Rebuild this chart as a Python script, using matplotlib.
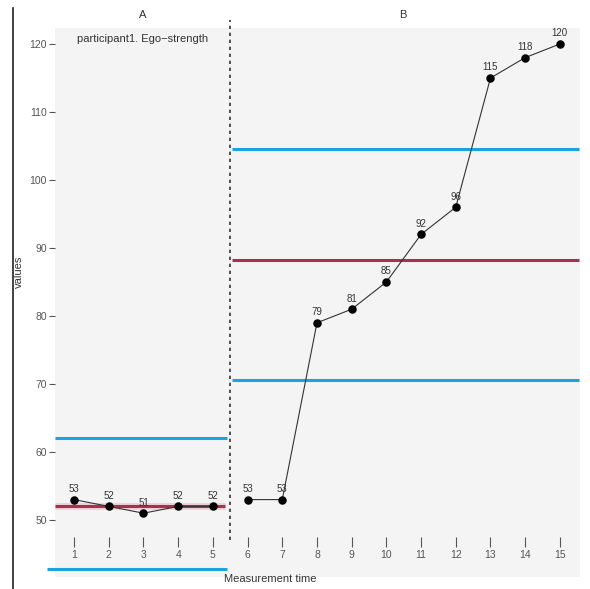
import matplotlib
matplotlib.use("Agg")
import matplotlib.pyplot as plt
from matplotlib.lines import Line2D

plt.rcParams["font.family"] = ["Liberation Sans", "DejaVu Sans"]

# Measurement occasions and scores per phase
time_a = [1, 2, 3, 4, 5]
values_a = [53, 52, 51, 52, 52]
time_b = [6, 7, 8, 9, 10, 11, 12, 13, 14, 15]
values_b = [53, 53, 79, 81, 85, 92, 96, 115, 118, 120]

# Phase reference lines: mean and upper/lower limits
mean_a, upper_a, lower_a = 52, 62, 42.8
mean_b, upper_b, lower_b = 88.3, 104.6, 70.6

phase_labels = ["A", "B"]
y_ticks = [50, 60, 70, 80, 90, 100, 110, 120]

W, H = 590, 589
fig = plt.figure(figsize=(W / 100, H / 100), dpi=100)
fig.patch.set_facecolor("white")

left, right, top, bottom = 55, 580, 28, 577
ax = fig.add_axes([left / W, 1 - bottom / H, (right - left) / W, (bottom - top) / H])
ax.set_facecolor("#f4f4f4")
ax.set_xlim(0.45, 15.58)
ax.set_ylim(50 - (bottom - 520) / 6.8, 50 + (520 - top) / 6.8)

blue = "#1aa3de"
red = "#a8324e"

# Phase A reference lines
ax.plot([0.45, 5.42], [upper_a, upper_a], color=blue, lw=2.2, solid_capstyle="butt")
ax.plot([0.22, 5.42], [lower_a, lower_a], color=blue, lw=2.2, solid_capstyle="butt", clip_on=False)
ax.plot([0.45, 5.35], [mean_a, mean_a], color="#f2b8c4", lw=5, alpha=0.6, solid_capstyle="butt")
ax.plot([0.45, 5.35], [mean_a, mean_a], color=red, lw=2.2, solid_capstyle="butt")

# Phase B reference lines
for yv, c in [(upper_b, blue), (mean_b, red), (lower_b, blue)]:
    ax.plot([5.55, 15.55], [yv, yv], color=c, lw=2.2, solid_capstyle="butt")

# Phase divider
ax.plot([5.49, 5.49], [47, 123.5], color="#333333", lw=1.2, ls=(0, (2, 2.2)), clip_on=False)

# Series with value labels
for xs, ys in [(time_a, values_a), (time_b, values_b)]:
    ax.plot(xs, ys, color="#333333", lw=0.8, zorder=3)
    ax.scatter(xs, ys, s=26, color="black", zorder=4)
    for x, y in zip(xs, ys):
        ax.annotate(str(y), (x, y), xytext=(0, 4), textcoords="offset points",
                    ha="center", va="bottom", fontsize=7, color="#333333", zorder=5)

# Axes styling
for s in ["top", "right", "left"]:
    ax.spines[s].set_visible(False)
ax.spines["bottom"].set_position(("data", 47.5))
ax.spines["bottom"].set_visible(False)
ax.set_xticks(time_a + time_b)
ax.tick_params(axis="x", length=7, width=0.8, color="#555555", labelsize=7.5,
               labelcolor="#555555", pad=2)
ax.set_yticks(y_ticks)
ax.tick_params(axis="y", length=4, width=0.8, color="#555555", labelsize=7.5,
               labelcolor="#555555", pad=2)
ax.set_xlabel("Measurement time", fontsize=8, color="#333333", va="center")
ax.xaxis.set_label_coords((270 - left) / (right - left), (bottom - 579) / (bottom - top))

# Phase titles and subtitle
fig.text(143 / W, 1 - 15 / H, phase_labels[0], ha="center", va="center", fontsize=8, color="#333333")
fig.text(403 / W, 1 - 15 / H, phase_labels[1], ha="center", va="center", fontsize=8, color="#333333")
fig.text(143 / W, 1 - 39 / H, "participant1. Ego\u2212strength", ha="center", va="center",
         fontsize=8, color="#333333")

# Left frame line and y label
fig.add_artist(Line2D([13 / W, 13 / W], [0, 1 - 8 / H], color="#222222", lw=1.2))
fig.text(19 / W, 1 - 272 / H, "values", rotation=90, ha="center", va="center",
         fontsize=8, color="#333333")

fig.savefig("out.png", dpi=100)
